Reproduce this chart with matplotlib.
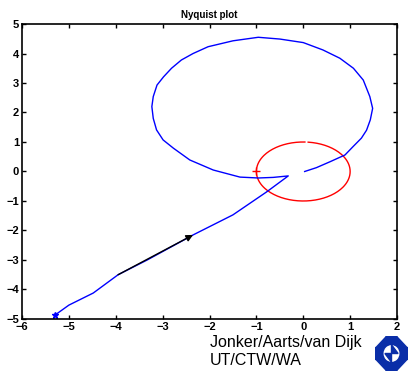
import numpy as np
import matplotlib
matplotlib.use("Agg")
from matplotlib import pyplot as plt
from matplotlib.patches import Rectangle, Polygon, Circle

# Nyquist curve (from low to high frequency)
re_vals = [-5.29, -5.0, -4.48, -3.95, -3.33, -2.35, -1.5, -0.78, -0.32,
           -0.64, -0.96, -1.35, -1.92, -2.42, -2.77, -2.99, -3.13, -3.2, -3.23,
           -3.2, -3.12, -2.98, -2.81, -2.6, -2.35, -2.03, -1.5, -0.96, -0.5,
           0.0, 0.42, 0.78, 1.07, 1.28, 1.42, 1.48, 1.43, 1.35, 1.24, 1.06,
           0.89, 0.57, 0.28, 0.03]
im_vals = [-4.86, -4.53, -4.12, -3.5, -3.0, -2.15, -1.47, -0.69, -0.15,
           -0.2, -0.22, -0.19, 0.05, 0.39, 0.79, 1.07, 1.41, 1.8, 2.2,
           2.54, 2.93, 3.21, 3.5, 3.78, 4.0, 4.23, 4.43, 4.55, 4.49,
           4.37, 4.12, 3.84, 3.5, 3.1, 2.54, 2.14, 1.75, 1.4, 1.13, 0.84,
           0.56, 0.33, 0.13, 0.0]

arrow_start = (-3.95, -3.5)
arrow_end = (-2.35, -2.15)
crit_point = (-1, 0)

x_ticks = [-6, -5, -4, -3, -2, -1, 0, 1, 2]
y_ticks = [-5, -4, -3, -2, -1, 0, 1, 2, 3, 4, 5]

plt.rcParams['font.family'] = ['Liberation Sans', 'DejaVu Sans']

fig = plt.figure(figsize=(4.09, 3.71), dpi=100)
ax = fig.add_axes([0.0538, 0.1402, 0.9169, 0.7951])

# unit circle (small gap at the top like the original)
th = np.linspace(np.deg2rad(88), np.deg2rad(444), 200)
ax.plot(np.cos(th), np.sin(th), color='red', lw=1)
ax.plot(*crit_point, '+', color='red', ms=6, mew=1)

ax.plot(re_vals, im_vals, color='blue', lw=1)
ax.plot(re_vals[0], im_vals[0], '*', color='blue', ms=5)

ax.annotate('', xy=arrow_end, xytext=arrow_start,
            arrowprops=dict(arrowstyle='-|>', color='black', lw=1,
                            mutation_scale=10, shrinkA=0, shrinkB=0))

ax.set_xlim(-6, 2)
ax.set_ylim(-5, 5)
ax.set_xticks(x_ticks)
ax.set_yticks(y_ticks)
ax.tick_params(direction='in', top=True, right=True, length=3, width=1,
               labelsize=8, pad=2)
for lbl in ax.get_xticklabels() + ax.get_yticklabels():
    lbl.set_fontweight('bold')
for s in ax.spines.values():
    s.set_linewidth(1.2)
ax.set_title('Nyquist plot', fontsize=7, fontweight='bold', pad=4)

fig.text(0.513, 0.0647, 'Jonker/Aarts/van Dijk', fontsize=11.5, va='baseline')
fig.text(0.513, 0.0162, 'UT/CTW/WA', fontsize=11.5, va='baseline')

# logo, rough
lx, ly, lw_, lh = 375 / 409, 0 / 371, 33 / 409, 35 / 371
ax2 = fig.add_axes([lx, ly, lw_, lh])
ax2.set_xlim(0, 1)
ax2.set_ylim(0, 1)
ax2.axis('off')
ax2.add_patch(Rectangle((0, 0), 1, 1, color='#0a2ea8'))
for tri in [[(0, 1), (0.3, 1), (0, 0.7)], [(1, 1), (0.7, 1), (1, 0.7)],
            [(0, 0), (0.3, 0), (0, 0.3)], [(1, 0), (0.7, 0), (1, 0.3)]]:
    ax2.add_patch(Polygon(tri, color='white'))
ax2.add_patch(Circle((0.5, 0.5), 0.22, color='white'))
ax2.add_patch(Polygon([(0.5, 0.5), (0.5, 0.75), (0.7, 0.5)], color='#0a2ea8'))
ax2.add_patch(Polygon([(0.5, 0.5), (0.5, 0.25), (0.3, 0.5)], color='#0a2ea8'))

fig.savefig('out.png', dpi=100)
